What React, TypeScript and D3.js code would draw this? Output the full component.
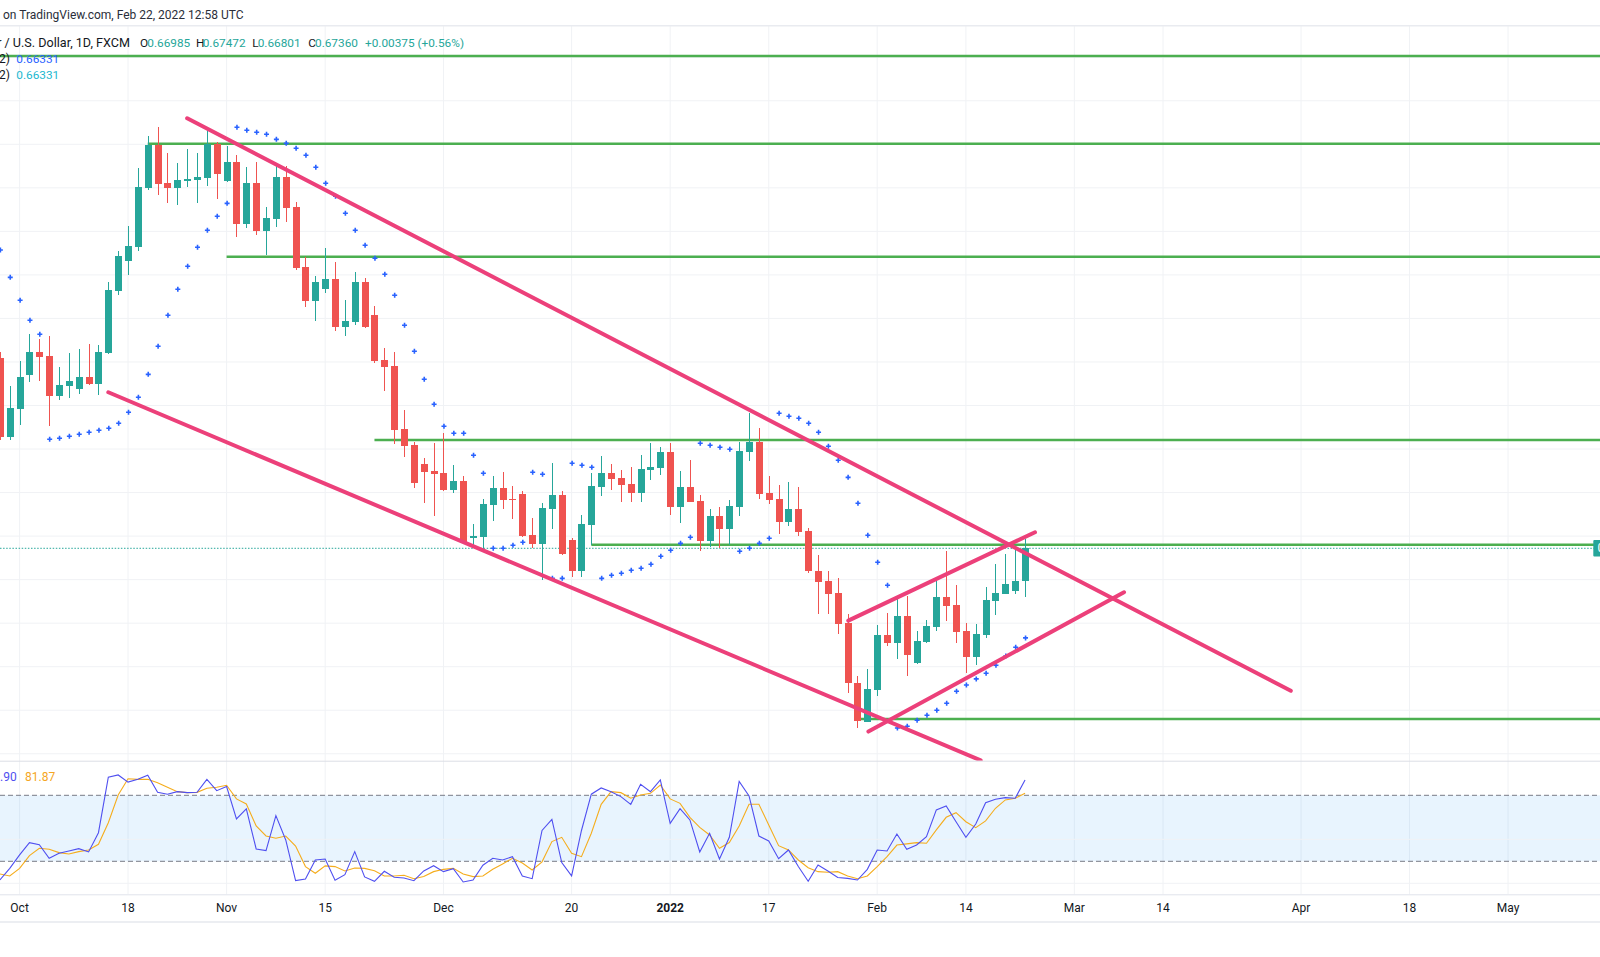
import * as d3 from 'd3';

const W = 1600;
const H = 957;

// bar 0 = 1 Oct 2021 (daily FXCM bars, weekdays only); first visible bar is -2
const FIRST_BAR = -2;

const opens = [
  0.69549, 0.68642, 0.68963, 0.69354, 0.69615, 0.69569, 0.69113, 0.69228, 0.69193, 0.69327,
  0.6925, 0.69603, 0.70319, 0.70663, 0.70824, 0.71502, 0.71992, 0.71556, 0.71502, 0.71582,
  0.71593, 0.71616, 0.72007, 0.71582, 0.71797, 0.71088, 0.71556, 0.71008, 0.71146, 0.71624,
  0.7128, 0.70591, 0.70204, 0.70342, 0.70453, 0.69905, 0.69963, 0.70419, 0.7004, 0.69523,
  0.69454, 0.6873, 0.68546, 0.68328, 0.68248, 0.68225, 0.6803, 0.68133, 0.67482, 0.67493,
  0.67857, 0.68053, 0.6793, 0.67984, 0.67513, 0.67413, 0.67815, 0.67972, 0.67455, 0.67103,
  0.67631, 0.68067, 0.68225, 0.68167, 0.68099, 0.67999, 0.68263, 0.68286, 0.68466, 0.67838,
  0.68064, 0.67903, 0.67447, 0.67731, 0.67585, 0.67838, 0.6847, 0.68581, 0.67995, 0.67926,
  0.67666, 0.67811, 0.67559, 0.67103, 0.66984, 0.66847, 0.66502, 0.65813, 0.65369, 0.65736,
  0.66364, 0.66276, 0.66583, 0.66046, 0.66287, 0.6646, 0.66801, 0.66709, 0.6641, 0.66115,
  0.66368, 0.66758, 0.66839, 0.66873, 0.66985,
];
const highs = [
  0.69615, 0.69224, 0.69511, 0.69821, 0.69764, 0.69795, 0.69442, 0.69603, 0.69649, 0.69706,
  0.69695, 0.70419, 0.70775, 0.71062, 0.71728, 0.72095, 0.72199, 0.719, 0.71785, 0.71946,
  0.719, 0.72164, 0.72026, 0.71984, 0.71881, 0.71739, 0.71797, 0.7128, 0.71774, 0.71751,
  0.71337, 0.70706, 0.70487, 0.70809, 0.70648, 0.70212, 0.70533, 0.70464, 0.70143, 0.6966,
  0.69615, 0.68948, 0.68577, 0.68397, 0.68569, 0.68684, 0.68317, 0.6819, 0.67639, 0.67926,
  0.6819, 0.68236, 0.68076, 0.68018, 0.67708, 0.6788, 0.6834, 0.68018, 0.6748, 0.67743,
  0.68225, 0.6842, 0.68328, 0.68259, 0.68294, 0.68432, 0.68569, 0.68523, 0.68569, 0.68248,
  0.68374, 0.67972, 0.67811, 0.67834, 0.67915, 0.68581, 0.68914, 0.68742, 0.6819, 0.68087,
  0.68122, 0.68064, 0.67593, 0.67283, 0.67099, 0.67019, 0.66606, 0.65893, 0.65974, 0.66479,
  0.66617, 0.66812, 0.66812, 0.6641, 0.66537, 0.66984, 0.67329, 0.66939, 0.66502, 0.66491,
  0.66916, 0.6718, 0.67295, 0.6734, 0.67472,
];
const lows = [
  0.68604, 0.68604, 0.68776, 0.69273, 0.69285, 0.68768, 0.69067, 0.6909, 0.69136, 0.69236,
  0.69124, 0.69592, 0.70273, 0.70502, 0.70778, 0.71479, 0.71421, 0.71329, 0.71306, 0.71513,
  0.71329, 0.71525, 0.71375, 0.7157, 0.70939, 0.71042, 0.70962, 0.70732, 0.71054, 0.71111,
  0.7056, 0.70135, 0.69974, 0.70296, 0.69859, 0.69802, 0.69928, 0.6989, 0.69492, 0.6917,
  0.68561, 0.68412, 0.68056, 0.67884, 0.67734, 0.68018, 0.67999, 0.67417, 0.67378, 0.6734,
  0.67674, 0.67811, 0.67697, 0.67493, 0.6736, 0.66996, 0.67585, 0.67283, 0.67027, 0.67034,
  0.67401, 0.67964, 0.68033, 0.67895, 0.67895, 0.67895, 0.68148, 0.68205, 0.67746, 0.67654,
  0.6789, 0.67332, 0.67378, 0.67367, 0.67401, 0.67734, 0.68366, 0.6793, 0.67872, 0.67528,
  0.6762, 0.67505, 0.6708, 0.66609, 0.66609, 0.66379, 0.65702, 0.653, 0.6536, 0.65667,
  0.66241, 0.66092, 0.65897, 0.66035, 0.66276, 0.66414, 0.66529, 0.66276, 0.65931, 0.66023,
  0.66333, 0.66594, 0.66835, 0.66839, 0.66801,
];
const closes = [
  0.68642, 0.68971, 0.69331, 0.69615, 0.69561, 0.69113, 0.69236, 0.69282, 0.69327, 0.69247,
  0.69615, 0.70327, 0.70717, 0.70832, 0.71506, 0.71992, 0.71547, 0.71502, 0.7159, 0.71601,
  0.71624, 0.72007, 0.71662, 0.71797, 0.71088, 0.71556, 0.71008, 0.71154, 0.71624, 0.71272,
  0.70583, 0.70204, 0.70419, 0.70453, 0.69905, 0.69971, 0.70419, 0.69905, 0.69515, 0.69446,
  0.68722, 0.68538, 0.68113, 0.6824, 0.68217, 0.6803, 0.68133, 0.67436, 0.67505, 0.67869,
  0.68053, 0.67915, 0.67918, 0.67505, 0.67413, 0.67823, 0.67972, 0.67298, 0.67103, 0.67639,
  0.68076, 0.68225, 0.68159, 0.6809, 0.67999, 0.68271, 0.68294, 0.68466, 0.67838, 0.68064,
  0.67895, 0.67447, 0.67731, 0.67585, 0.67846, 0.68478, 0.68581, 0.67987, 0.67918, 0.67666,
  0.67811, 0.67551, 0.67103, 0.66976, 0.66839, 0.66494, 0.6581, 0.6538, 0.65744, 0.66364,
  0.66276, 0.66583, 0.66138, 0.66295, 0.66468, 0.66801, 0.66701, 0.66402, 0.66115, 0.66376,
  0.66766, 0.66847, 0.6695, 0.66985, 0.6736,
];

// Parabolic SAR
const sar = [
  0.70786, 0.70472, 0.70208, 0.69979, 0.69818, 0.68612, 0.68624, 0.68646, 0.68669, 0.68692,
  0.68715, 0.68738, 0.68796, 0.68922, 0.69094, 0.69358, 0.6968, 0.70036, 0.70335, 0.70599,
  0.70817, 0.71012, 0.71173, 0.71322, 0.72195, 0.72161, 0.72138, 0.72115, 0.72057, 0.72011,
  0.71954, 0.71874, 0.71736, 0.71552, 0.71403, 0.71208, 0.71012, 0.7084, 0.70691, 0.70507,
  0.70266, 0.69921, 0.69623, 0.69301, 0.69014, 0.68761, 0.68681, 0.68681, 0.68428, 0.68221,
  0.6736, 0.6736, 0.67395, 0.67429, 0.68233, 0.6821, 0.67015, 0.67015, 0.68336, 0.68313,
  0.6829, 0.67015, 0.6705, 0.67073, 0.67107, 0.6713, 0.67176, 0.67268, 0.67337, 0.67417,
  0.67486, 0.68566, 0.68543, 0.6852, 0.68497, 0.67326, 0.6736, 0.67417, 0.67475, 0.68911,
  0.68876, 0.68853, 0.68796, 0.68692, 0.68532, 0.68371, 0.68175, 0.67877, 0.67509, 0.67199,
  0.66935, 0.65296, 0.65316, 0.65385, 0.65442, 0.655, 0.6558, 0.65718, 0.6579, 0.6586,
  0.65924, 0.66016, 0.66123, 0.66223, 0.66331,
];

// Stochastic RSI
const stochK = [
  3, 13.6, 25.8, 37, 35, 22.7, 27.3, 29.4, 31.5, 28.5,
  46, 96.4, 98.5, 92, 94.5, 98.2, 82.7, 81, 83.3, 82.4,
  82.7, 94.5, 84.2, 87.9, 58.5, 67.6, 31.2, 29.7, 61.5, 39.4,
  2.4, 3.9, 21.2, 22.1, 2.7, 7.9, 28.8, 5.8, 1.8, 10.9,
  5.5, 4.8, 2.4, 11.2, 16, 10.6, 13.3, 1.2, 3, 16.4,
  22.7, 21.2, 24.2, 6.7, 4.2, 48, 58, 18.8, 6.7, 48,
  81, 86.7, 83.3, 78.8, 71.8, 90, 83.3, 94, 54.5, 67.9,
  57.6, 28.5, 45.5, 22.1, 41.8, 92.7, 79.4, 43, 38.5, 22.4,
  30.3, 15.2, 1.8, 16.7, 11.2, 5.2, 4.5, 3, 12.7, 30.3,
  29.4, 44.8, 30.9, 34.8, 42.4, 66.7, 70.3, 56, 41.8, 53.9,
  73.3, 76.4, 77.9, 77.3, 93.9,
];
const stochD = [
  8.5, 6.7, 13.6, 25.2, 31.8, 30.9, 27.9, 26.7, 28.8, 30.3,
  35.5, 55, 80.3, 95, 94.5, 94.5, 91.5, 87.3, 83.3, 82.4,
  82.7, 86.4, 87.3, 89.1, 76.7, 72.1, 52.1, 43, 40.9, 43,
  33.9, 15.2, 9.1, 15.8, 15.2, 11.2, 13.9, 13.6, 11.5, 6.7,
  6.7, 7.3, 4.2, 6.1, 10.6, 12.7, 13.6, 8.5, 6.1, 6.7,
  12.7, 17.6, 22.7, 18.5, 12.1, 19.5, 37.9, 41.8, 27.3, 24.2,
  45.5, 71.8, 83.3, 82.4, 77.3, 80.3, 81.8, 89.4, 76.7, 72.7,
  60, 50.9, 43.9, 31.8, 37, 52.1, 71.8, 71.8, 53, 34.2,
  30.3, 21.2, 14.2, 10.6, 10, 10.6, 6.7, 4.2, 6.7, 15.2,
  24.2, 34.8, 35.8, 37, 36.4, 48.5, 60, 64.2, 56, 50.6,
  56.7, 68.2, 75.8, 77.3, 81.87,
];

const tickLabels = ['Oct', '18', 'Nov', '15', 'Dec', '20', '2022', '17', 'Feb', '14', 'Mar', '14', 'Apr', '18', 'May'];
const tickBars = [0, 11, 21, 31, 43, 56, 66, 76, 87, 96, 107, 116, 130, 141, 151];
const yearLabels = ['2022'];

const priceTicks = [
  0.65, 0.655, 0.66, 0.665, 0.67, 0.675, 0.68, 0.685, 0.69,
  0.695, 0.7, 0.705, 0.71, 0.715, 0.72, 0.725, 0.73,
];
const stochGrid = [0, 40];
const stochBands = [80, 20];

// horizontal support / resistance levels (price, first bar)
const levelPrices = [0.73014, 0.72007, 0.70709, 0.68604, 0.674, 0.654];
const levelStarts = [-3, 13, 21, 36, 58, 85];

// trend lines: [bar, price] -> [bar, price]
const trendFrom: [number, number][] = [[17.0, 0.72299], [9.0, 0.69152], [84.07, 0.66529], [86.11, 0.65255]];
const trendTo: [number, number][] = [[128.96, 0.65724], [97.5, 0.64924], [103.01, 0.67544], [112.04, 0.66855]];

const UP = '#26a69a';
const DOWN = '#ef5350';
const GRID = '#f0f2f5';
const FONT = "Roboto, 'Liberation Sans', Arial, sans-serif";

const x = d3.scaleLinear().domain([0, 96]).range([19.6, 965.9]);
const y = d3.scaleLinear().domain([0.66, 0.72]).range([666.7, 144.3]);
const ys = d3.scaleLinear().domain([0, 100]).range([883.3, 773.3]);

const PANE_TOP = 26;
const PANE_BOTTOM = 760.7;
const STOCH_TOP = 761.5;
const AXIS_TOP = 894.3;

export default function App() {
  const n = closes.length;
  const last = n - 1;
  const bodyW = 7;

  const stochLine = d3
    .line<number>()
    .x((_, k) => x(FIRST_BAR + k))
    .y(v => ys(v));

  const change = closes[last] - closes[last - 1];
  const changePct = (change / closes[last - 1]) * 100;

  return (
    <div style={{ position: 'absolute', left: 0, top: 0, width: W, height: H, background: '#fff' }}>
      <svg width={W} height={H} viewBox={`0 0 ${W} ${H}`} style={{ display: 'block', fontFamily: FONT }}>
        <defs>
          <clipPath id="pricePane">
            <rect x={0} y={PANE_TOP} width={W} height={PANE_BOTTOM - PANE_TOP} />
          </clipPath>
          <clipPath id="stochPane">
            <rect x={0} y={STOCH_TOP} width={W} height={AXIS_TOP - STOCH_TOP} />
          </clipPath>
        </defs>

        <rect x={0} y={0} width={W} height={H} fill="#fff" />

        {/* vertical grid */}
        {tickBars.map((b, k) => (
          <line key={`vg${k}`} x1={x(b)} x2={x(b)} y1={PANE_TOP} y2={AXIS_TOP} stroke={GRID} strokeWidth={1} />
        ))}

        {/* price grid */}
        <g clipPath="url(#pricePane)">
          {priceTicks.map((p, k) => (
            <line key={`hg${k}`} x1={0} x2={W} y1={y(p)} y2={y(p)} stroke={GRID} strokeWidth={1} />
          ))}
        </g>

        {/* top bar + legend */}
        <rect x={0} y={25} width={W} height={1.5} fill="#e9ebf0" />
        <text x={3} y={19} fontSize={12} fill="#2a2e39">
          on TradingView.com, Feb 22, 2022 12:58 UTC
        </text>

        <g clipPath="url(#pricePane)">
          {/* levels */}
          {levelPrices.map((p, k) => (
            <line
              key={`lv${k}`}
              x1={x(levelStarts[k])}
              x2={W}
              y1={y(p)}
              y2={y(p)}
              stroke="#4caf50"
              strokeWidth={2.4}
            />
          ))}

          {/* last price line */}
          <line
            x1={0}
            x2={W}
            y1={y(closes[last])}
            y2={y(closes[last])}
            stroke={UP}
            strokeWidth={1}
            strokeDasharray="1.5 1.6"
          />

          {/* candles */}
          {closes.map((c, k) => {
            const o = opens[k];
            const cx = Math.round(x(FIRST_BAR + k));
            const col = c >= o ? UP : DOWN;
            const top = y(Math.max(o, c));
            const h = Math.max(1, Math.abs(y(o) - y(c)));
            return (
              <g key={`c${k}`} shapeRendering="crispEdges">
                <rect x={cx} y={y(highs[k])} width={1} height={y(lows[k]) - y(highs[k])} fill={col} />
                <rect x={cx - (bodyW - 1) / 2} y={top} width={bodyW} height={h} fill={col} />
              </g>
            );
          })}

          {/* parabolic SAR */}
          {sar.map((s, k) => {
            const cx = x(FIRST_BAR + k) + 0.5;
            const cy = y(s);
            return (
              <path
                key={`s${k}`}
                d={`M${cx - 2.5},${cy}H${cx + 2.5}M${cx},${cy - 2.5}V${cy + 2.5}`}
                stroke="#2962ff"
                strokeWidth={1.6}
              />
            );
          })}

          {/* trend lines */}
          {trendFrom.map((a, k) => (
            <line
              key={`t${k}`}
              x1={x(a[0])}
              y1={y(a[1])}
              x2={x(trendTo[k][0])}
              y2={y(trendTo[k][1])}
              stroke="#ec407a"
              strokeWidth={4}
              strokeLinecap="round"
            />
          ))}
        </g>

        {/* legend text */}
        <text y={46.7} fontSize={12.6} fill="#131722">
          <tspan x={130} textAnchor="end">New Zealand Dollar / U.S. Dollar, 1D, FXCM</tspan>
        </text>
        <text y={46.7} fontSize={11.8}>
          <tspan x={140} fill="#131722">O</tspan>
          <tspan x={147.3} fill={UP}>{opens[last].toFixed(5)}</tspan>
          <tspan x={196} fill="#131722">H</tspan>
          <tspan x={202.7} fill={UP}>{highs[last].toFixed(5)}</tspan>
          <tspan x={252.3} fill="#131722">L</tspan>
          <tspan x={257.7} fill={UP}>{lows[last].toFixed(5)}</tspan>
          <tspan x={308.3} fill="#131722">C</tspan>
          <tspan x={315} fill={UP}>{closes[last].toFixed(5)}</tspan>
          <tspan x={365} fill={UP}>
            {`${change >= 0 ? '+' : ''}${change.toFixed(5)} (${change >= 0 ? '+' : ''}${changePct.toFixed(2)}%)`}
          </tspan>
        </text>
        <text y={62.7} fontSize={12}>
          <tspan x={10} textAnchor="end" fill="#131722">SAR (0.02, 0.02, 0.2)</tspan>
        </text>
        <text x={16.3} y={62.7} fontSize={11.8} fill="#2962ff">{sar[last].toFixed(5)}</text>
        <text y={79.3} fontSize={12}>
          <tspan x={10} textAnchor="end" fill="#131722">SAR (0.02, 0.02, 0.2)</tspan>
        </text>
        <text x={16.3} y={79.3} fontSize={11.8} fill="#22b8cf">{sar[last].toFixed(5)}</text>

        {/* price label at right edge */}
        <rect x={1593.3} y={y(closes[last]) - 8.3} width={10} height={16.6} fill={UP} rx={1} />
        <text x={1597.5} y={y(closes[last]) + 4} fontSize={12} fill="#fff">{closes[last].toFixed(5)}</text>

        {/* pane separator */}
        <rect x={0} y={PANE_BOTTOM} width={W} height={1} fill="#dcdfe5" />

        {/* stoch RSI pane */}
        <g clipPath="url(#stochPane)">
          <rect
            x={0}
            y={ys(stochBands[0])}
            width={W}
            height={ys(stochBands[1]) - ys(stochBands[0])}
            fill="rgba(33,150,243,0.1)"
          />
          {stochGrid.map((v, k) => (
            <line key={`sg${k}`} x1={0} x2={W} y1={ys(v)} y2={ys(v)} stroke={GRID} strokeWidth={1} />
          ))}
          {stochBands.map((v, k) => (
            <line
              key={`sb${k}`}
              x1={0}
              x2={W}
              y1={ys(v)}
              y2={ys(v)}
              stroke="#787b86"
              strokeWidth={1}
              strokeDasharray="5 3"
            />
          ))}
          <path d={stochLine(stochD) ?? ''} fill="none" stroke="#f5ad1d" strokeWidth={1.1} />
          <path d={stochLine(stochK) ?? ''} fill="none" stroke="#4f4ff0" strokeWidth={1.1} />
        </g>
        <text x={16.7} y={781} fontSize={12} fill="#4f4ff0" textAnchor="end">
          {stochK[last].toFixed(2)}
        </text>
        <text x={25} y={781} fontSize={12} fill="#f5a623">
          {stochD[last].toFixed(2)}
        </text>

        {/* time axis */}
        <rect x={0} y={AXIS_TOP} width={W} height={1} fill="#e0e3eb" />
        {tickLabels.map((t, k) => (
          <text
            key={`tl${k}`}
            x={x(tickBars[k])}
            y={912}
            fontSize={12}
            textAnchor="middle"
            fill="#131722"
            fontWeight={yearLabels.includes(t) ? 700 : 400}
          >
            {t}
          </text>
        ))}
        <rect x={0} y={921} width={W} height={2} fill="#eceef2" />
      </svg>
    </div>
  );
}
